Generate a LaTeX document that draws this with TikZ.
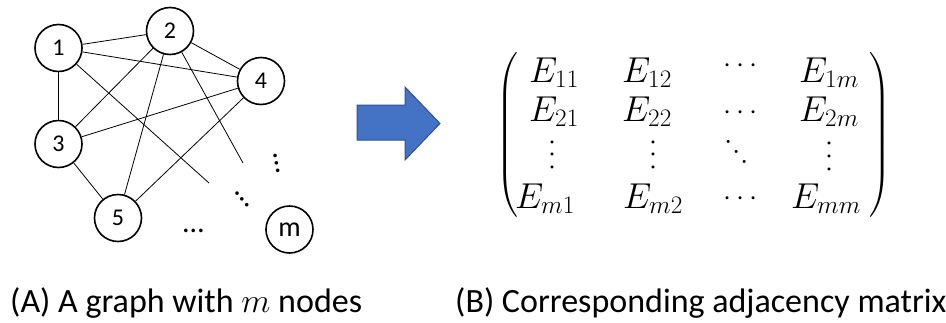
\RequirePackage{fix-cm}
\documentclass[tikz,border=0pt]{standalone}
\usepackage{amsmath}
\usepackage[no-math]{fontspec}
\setmainfont{Carlito}
\definecolor{arrowfill}{HTML}{4472C4}
\definecolor{arrowdraw}{HTML}{2F528F}
\newcommand{\mycdots}{\smash{\raisebox{-0.25em}{$\cdots$}}}
\newcommand{\bigparen}[1]{$\left#1\vcenter{\hbox{\rule{0pt}{165pt}}}\right.$}
\newcommand{\bigparenR}[1]{$\left.\vcenter{\hbox{\rule{0pt}{165pt}}}\right#1$}
\begin{document}
\begin{tikzpicture}[x=1pt,y=-1pt,
  gnode/.style={circle,draw,line width=1.6pt,minimum size=47pt,inner sep=0pt,font=\fontsize{24}{24}\selectfont},
  edge/.style={line width=0.8pt},
  ent/.style={anchor=base,inner sep=0pt,font=\fontsize{36}{40}\selectfont},
  mdots/.style={inner sep=0pt,font=\fontsize{29}{30}\selectfont},
  gdots/.style={inner sep=0pt,font=\fontsize{30}{30}\selectfont},
  paren/.style={inner sep=0pt,font=\fontsize{38}{40}\selectfont},
  captext/.style={anchor=base west,inner sep=0pt,font=\fontsize{34}{38}\selectfont}
]
\useasboundingbox (0,0) rectangle (946,322);

% graph
\node[gnode] (n1) at (58.5,48) {1};
\node[gnode] (n2) at (170,31) {2};
\node[gnode] (n4) at (261,81) {4};
\node[gnode] (n3) at (58.5,144) {3};
\node[gnode] (n5) at (118,218) {5};
\node[gnode,font=\fontsize{28}{28}\selectfont] (nm) at (289.5,229.5) {m};
\coordinate (f1) at (209,183);
\coordinate (f2) at (243,163);

\draw[edge] (n1) -- (n2);
\draw[edge] (n1) -- (n4);
\draw[edge] (n1) -- (n3);
\draw[edge] (n1) -- (f1);
\draw[edge] (n2) -- (n4);
\draw[edge] (n2) -- (n3);
\draw[edge] (n2) -- (n5);
\draw[edge] (n2) -- (f2);
\draw[edge] (n4) -- (n3);
\draw[edge] (n4) -- (n5);
\draw[edge] (n3) -- (n5);

\node[gdots,rotate=-80] (gv) at (277,163.5) {…};
\node[gdots,rotate=-50] (gd) at (242,199) {…};
\node[gdots] (gh) at (193.5,231) {…};

% arrow
\draw[fill=arrowfill,draw=arrowdraw,line width=1pt]
  (357,105) -- (405,105) -- (405,87) -- (440,123.5) -- (405,160) -- (405,140) -- (357,140) -- cycle;

% matrix
\node[paren] (lp) at (508,135) {\bigparen(};
\node[paren] (rp) at (880,135) {\bigparenR)};

\node[ent] (e11) at (554,82) {$E_{11}$};
\node[ent] (e12) at (647,82) {$E_{12}$};
\node[mdots] (c1) at (743,65) {\mycdots};
\node[ent] (e1m) at (829,82) {$E_{1m}$};

\node[ent] (e21) at (554,121) {$E_{21}$};
\node[ent] (e22) at (647,121) {$E_{22}$};
\node[mdots] (c2) at (743,112) {\mycdots};
\node[ent] (e2m) at (829,121) {$E_{2m}$};

\node[mdots,rotate=90] (v1) at (552,152.5) {\mycdots};
\node[mdots,rotate=90] (v2) at (653,152.5) {\mycdots};
\node[mdots,rotate=-50] (dd) at (738,154) {\mycdots};
\node[mdots,rotate=90] (v4) at (829,154) {\mycdots};

\node[ent] (em1) at (545,208) {$E_{m1}$};
\node[ent] (em2) at (653,208) {$E_{m2}$};
\node[mdots] (c4) at (743,198) {\mycdots};
\node[ent] (emm) at (826,208) {$E_{mm}$};

% captions
\node[captext] (capA) at (10,312) {(A) A graph with $m$ nodes};
\node[captext] (capB) at (455,312) {(B) Corresponding adjacency matrix};
\end{tikzpicture}
\end{document}
